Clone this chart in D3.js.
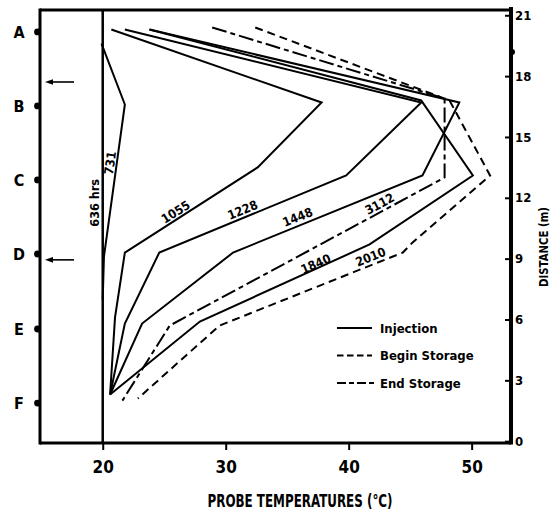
<!DOCTYPE html>
<html><head><meta charset="utf-8">
<script src="https://cdn.jsdelivr.net/npm/d3@7"></script>
<style>
html,body{margin:0;padding:0;background:#fff;}
svg{display:block;}
text{font-family:"Liberation Sans Narrow","DejaVu Sans Condensed","Arial Narrow",sans-serif;font-weight:bold;fill:#000;}
</style></head><body>
<svg id="chart" width="557" height="510"></svg>
<script>
// ---------- data ----------
const probeLabels = ["A","B","C","D","E","F"];
const probeDistances = [20.18,16.53,12.88,9.23,5.53,1.88];
const arrowDistances = [17.71, 8.94];
const rightMarkDistances = [19.19];
const xTicks = [20,30,40,50];
const yTicks = [0,3,6,9,12,15,18,21];

// [temperature °C, distance m]
const curve636  = [[20,-0.09],[20,21.26]];
const curve731  = [[19.9,19.6],[21.8,16.6],[20.1,9.1],[20.0,7.0]];
const curve1055 = [[20.7,20.3],[37.8,16.7],[32.6,13.5],[21.8,9.3],[21.0,6.1],[20.6,2.3]];
const curve1228 = [[21.8,20.3],[45.9,16.7],[39.8,13.1],[24.6,9.3],[21.8,5.8],[20.6,2.3]];
const curve1448 = [[23.8,20.3],[49.0,16.7],[46.0,13.1],[30.6,9.3],[23.2,5.8],[20.6,2.3]];
const curve1840 = [[23.8,20.3],[45.9,16.8],[50.1,13.1],[41.7,9.7],[27.9,5.9],[20.6,2.3]];
const curve2010 = [[32.4,20.4],[48.2,16.8],[51.5,13.1],[45.2,9.8],[44.4,9.3],[29.5,5.7],[22.85,2.1]];
const curve3112 = [[28.9,20.4],[47.8,16.9],[47.8,13.0],[25.45,5.7],[21.6,2.0]];

const curves = [curve636,curve731,curve1055,curve1228,curve1448,curve1840,curve2010,curve3112];
const curvePhases = ["Injection","Injection","Injection","Injection","Injection","Injection","Begin Storage","End Storage"];

const labelTexts  = ["636 hrs","731","1055","1228","1448","1840","2010","3112"];
const labelTemps  = [19.35,20.6,25.93,31.38,35.85,37.32,41.79,42.52];
const labelDists  = [11.75,13.72,11.3,11.4,11.05,8.74,9.09,11.7];
const labelAngles = [-90,-82,-32,-22,-22,-24,-22,-28];

const legendNames = ["Injection","Begin Storage","End Storage"];

// ---------- layout ----------
const svg = d3.select("#chart");
const L = 40, R = 511, T = 10, B = 443;
const x = d3.scaleLinear().domain([14.9,53.2]).range([L,R]);
const y = d3.scaleLinear().domain([-0.09,21.26]).range([B,T]);

const dashFor = {"Injection":null,"Begin Storage":"8,5","End Storage":"15,4,5,4"};

const line = d3.line().x(d=>x(d[0])).y(d=>y(d[1]));

// curves
svg.append("g").selectAll("path").data(curves).join("path")
  .attr("d", line)
  .attr("fill","none").attr("stroke","#000")
  .attr("stroke-width",(d,i)=> i===0 ? 2.5 : 2)
  .attr("stroke-linejoin","miter")
  .attr("stroke-dasharray",(d,i)=>dashFor[curvePhases[i]]);

// frame
svg.append("line").attr("x1",L).attr("x2",L).attr("y1",T-1.5).attr("y2",B+1.5).attr("stroke","#000").attr("stroke-width",3);
svg.append("line").attr("x1",L).attr("x2",R).attr("y1",T).attr("y2",T).attr("stroke","#000").attr("stroke-width",3);
svg.append("line").attr("x1",L).attr("x2",R).attr("y1",B).attr("y2",B).attr("stroke","#000").attr("stroke-width",3);
svg.append("line").attr("x1",R).attr("x2",R).attr("y1",T-3).attr("y2",B+1.5).attr("stroke","#000").attr("stroke-width",4);

// bottom axis
const ax = svg.append("g").attr("transform",`translate(0,${B})`)
  .call(d3.axisBottom(x).tickValues(xTicks).tickSize(7).tickPadding(11).tickSizeOuter(0));
ax.select(".domain").remove();
ax.selectAll("line").attr("stroke","#000").attr("stroke-width",2);
ax.selectAll("text").attr("font-size",17).style("font-family",null);

// right axis
const ay = svg.append("g").attr("transform",`translate(${R},0)`)
  .call(d3.axisRight(y).tickValues(yTicks).tickSize(-6).tickPadding(4).tickSizeOuter(0));
ay.select(".domain").remove();
ay.selectAll("line").attr("stroke","#000").attr("stroke-width",2);
ay.selectAll("text").attr("font-size",13).style("font-family",null);

svg.append("g").selectAll("circle").data(rightMarkDistances).join("circle")
  .attr("cx",R+1).attr("cy",d=>y(d)).attr("r",3).attr("fill","#000");

// probes on left
svg.append("g").selectAll("circle").data(probeDistances).join("circle")
  .attr("cx",L-2.5).attr("cy",d=>y(d)).attr("r",3.4).attr("fill","#000");
svg.append("g").selectAll("text").data(probeLabels).join("text")
  .attr("x",19).attr("y",(d,i)=>y(probeDistances[i]))
  .attr("dy","0.36em").attr("text-anchor","middle").attr("font-size",16).text(d=>d);

// arrows
const ag = svg.append("g").selectAll("g").data(arrowDistances).join("g")
  .attr("transform",d=>`translate(0,${y(d)})`);
ag.append("line").attr("x1",L+10).attr("x2",L+34).attr("y1",0).attr("y2",0).attr("stroke","#000").attr("stroke-width",1.6);
ag.append("path").attr("d",`M${L+5},0 L${L+13},-2.8 L${L+13},2.8 Z`).attr("fill","#000");

// curve labels
svg.append("g").selectAll("text").data(labelTexts).join("text")
  .attr("transform",(d,i)=>`translate(${x(labelTemps[i])},${y(labelDists[i])}) rotate(${labelAngles[i]})`)
  .attr("text-anchor","middle").attr("dy","0.35em").attr("font-size",12.5).text(d=>d);

// legend
const lg = svg.append("g").selectAll("g").data(legendNames).join("g")
  .attr("transform",(d,i)=>`translate(0,${328 + i*27.5})`);
lg.append("line").attr("x1",337).attr("x2",(d,i)=> i===2 ? 377 : 372).attr("y1",0).attr("y2",0)
  .attr("stroke","#000").attr("stroke-width",2)
  .attr("stroke-dasharray",d=> d==="Begin Storage" ? "6.5,3.5" : (d==="End Storage" ? "9,3,5,3" : null));
lg.append("text").attr("x",380).attr("dy","0.35em").attr("font-size",13).text(d=>d);

// titles
svg.append("text").attr("x",300).attr("y",507).attr("text-anchor","middle").attr("font-size",17)
  .attr("textLength",185).attr("lengthAdjust","spacingAndGlyphs").text("PROBE TEMPERATURES (°C)");
svg.append("text").attr("transform","translate(544,247) rotate(-90)").attr("text-anchor","middle")
  .attr("dy","0.35em").attr("font-size",12).attr("textLength",80).attr("lengthAdjust","spacingAndGlyphs")
  .text("DISTANCE (m)");
</script>
</body></html>
